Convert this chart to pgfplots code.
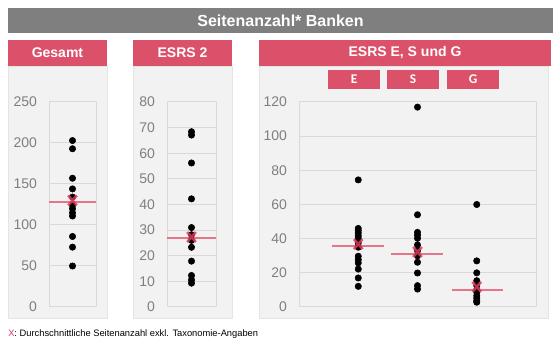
\documentclass[border=0pt]{standalone}
\usepackage{pgfplots}
\pgfplotsset{compat=1.18}
\usepackage{fontspec}
\setmainfont{Liberation Sans}
\newfontfamily\carlito{Carlito}
\definecolor{panelbg}{HTML}{F2F2F2}
\definecolor{gridc}{HTML}{D9D9D9}
\definecolor{tickc}{HTML}{7F7F7F}
\definecolor{titlec}{HTML}{7F7F7F}
\definecolor{headc}{HTML}{DB5169}
\definecolor{meanc}{HTML}{E8748A}
\definecolor{xc}{HTML}{E03A5C}
\pgfplotsset{
  panel/.style={
    scale only axis, anchor=south west,
    xmin=0, xtick=\empty, ymin=0,
    ymajorgrids, grid style={draw=gridc, line width=0.75pt},
    axis line style={draw=gridc, line width=0.75pt},
    major tick length=0pt,
    yticklabel style={font=\fontsize{10.5}{12}\selectfont, text=tickc, xshift=-5.5pt},
    /pgf/number format/assume math mode=true,
    clip=false, height=153.75pt,
  },
  dots/.style={only marks, mark=*, mark size=2.4pt, black, mark options={draw=black, fill=black}},
  meanl/.style={meanc, line width=1.5pt, no marks},
  xmk/.style={only marks, mark=x, mark size=4.6pt, mark options={draw=xc, line width=1.9pt, yscale=1.15}, opacity=0.85},
}
\begin{document}
\begin{tikzpicture}
% background and frame
\fill[white] (0,0) rectangle (420pt,259.5pt);
% title bar
\fill[titlec] (6pt,234.75pt) rectangle (414.75pt,253.5pt);
\node[text=white, font=\bfseries\fontsize{12}{14}\selectfont] at (210.4pt,244.1pt) {Seitenanzahl* Banken};
% panels
\filldraw[fill=panelbg, draw=gridc!70, line width=0.4pt] (6pt,21pt) rectangle (80.25pt,210pt);
\filldraw[fill=panelbg, draw=gridc!70, line width=0.4pt] (99.75pt,21pt) rectangle (174pt,210pt);
\filldraw[fill=panelbg, draw=gridc!70, line width=0.4pt] (194.25pt,21pt) rectangle (411pt,210pt);
% headers
\fill[headc] (6pt,210pt) rectangle (80.25pt,229.5pt);
\fill[headc] (99.75pt,210pt) rectangle (174pt,229.5pt);
\fill[headc] (194.25pt,210pt) rectangle (413.25pt,229.5pt);
\node[text=white, font=\bfseries\fontsize{10.5}{12}\selectfont] at (43.1pt,219.75pt) {Gesamt};
\node[text=white, font=\bfseries\fontsize{10.5}{12}\selectfont] at (136.9pt,219.75pt) {ESRS 2};
\node[text=white, font=\bfseries\fontsize{10.5}{12}\selectfont] at (303.75pt,219.75pt) {ESRS E, S und G};
% E S G boxes
\fill[headc] (246pt,192.75pt) rectangle (285pt,207pt);
\fill[headc] (290.25pt,192.75pt) rectangle (329.25pt,207pt);
\fill[headc] (335.25pt,192.75pt) rectangle (374.25pt,207pt);
\node[text=white, font=\carlito\bfseries\fontsize{10}{12}\selectfont] at (265.5pt,199.9pt) {E};
\node[text=white, font=\carlito\bfseries\fontsize{10}{12}\selectfont] at (309.75pt,199.9pt) {S};
\node[text=white, font=\carlito\bfseries\fontsize{10}{12}\selectfont] at (354.75pt,199.9pt) {G};

% Gesamt
\begin{axis}[panel, at={(36.75pt,29.25pt)}, width=35.25pt, xmax=2, ymax=250, ytick={0,50,100,150,200,250}]
\addplot[meanl] coordinates {(0,128) (2,128)};
\addplot[dots] coordinates {(1,203) (1,193) (1,157) (1,144) (1,134) (1,124) (1,120) (1,115) (1,111) (1,86) (1,73) (1,50)};
\addplot[xmk] coordinates {(1,130)};
\end{axis}

% ESRS 2
\begin{axis}[panel, at={(125.25pt,29.25pt)}, width=36.75pt, xmax=2, ymax=80, ytick={0,10,...,80}]
\addplot[meanl] coordinates {(0,27.1) (2,27.1)};
\addplot[dots] coordinates {(1,68.4) (1,67.1) (1,56.2) (1,42.2) (1,31.0) (1,28.2) (1,26.0) (1,23.3) (1,17.9) (1,12.3) (1,10.6) (1,9.3)};
\addplot[xmk] coordinates {(1,27.3)};
\end{axis}

% ESRS E, S und G
\begin{axis}[panel, at={(224.25pt,29.25pt)}, width=177.75pt, xmax=4, ymax=120, ytick={0,20,...,120}]
\addplot[meanl] coordinates {(0.56,35.6) (1.43,35.6)};
\addplot[meanl] coordinates {(1.56,31.1) (2.43,31.1)};
\addplot[meanl] coordinates {(2.58,10.0) (3.44,10.0)};
\addplot[dots] coordinates {(1,74.4) (1,46.0) (1,44.7) (1,43.3) (1,41.7) (1,40.2) (1,37.5) (1,35.0) (1,29.7) (1,27.7) (1,25.8) (1,22.2) (1,17.0) (1,12.1)};
\addplot[dots] coordinates {(2,117) (2,54.0) (2,43.7) (2,42.1) (2,40.2) (2,36.3) (2,33.0) (2,30.0) (2,26.2) (2,19.9) (2,12.5) (2,10.5)};
\addplot[dots] coordinates {(3,60.0) (3,27.0) (3,20.0) (3,15.4) (3,12.5) (3,10.0) (3,8.6) (3,6.6) (3,5.1) (3,3.7) (3,2.8)};
\addplot[xmk] coordinates {(1,36.8) (2,32.2) (3,11.8)};
\end{axis}

% footer
\node[anchor=base west, inner sep=0pt, font=\fontsize{7}{8}\selectfont] at (6pt,7pt) {{\color{xc}X}: Durchschnittliche Seitenanzahl exkl. Taxonomie-Angaben};
\end{tikzpicture}
\end{document}
